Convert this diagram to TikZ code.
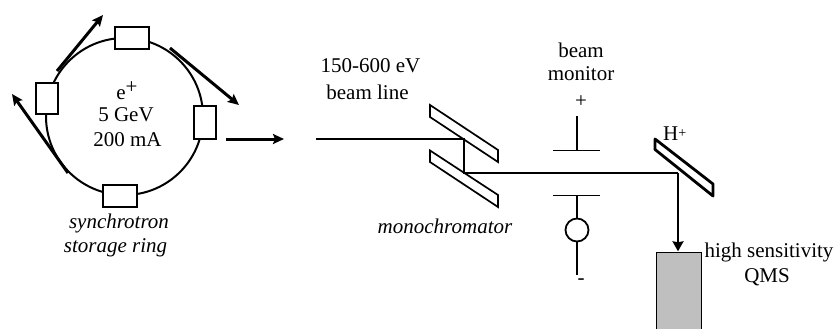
\documentclass[tikz,border=0pt]{standalone}
\usepackage{fontspec}
\setmainfont{Liberation Serif}
\usetikzlibrary{arrows.meta}
\tikzset{
  lab/.style={inner sep=0pt,align=center,font=\fontsize{21}{25}\selectfont},
  ilab/.style={lab,font=\fontsize{21}{25}\selectfont\itshape},
  magnet/.style={draw=black,line width=2.2pt,fill=white,inner sep=0pt,anchor=north west},
  ringline/.style={line width=2pt},
  photon/.style={line width=3pt,-{Stealth[length=11pt,width=10pt,inset=2pt]}},
  beam/.style={line width=2pt},
  plate/.style={line width=1.8pt},
  mirror/.style={line width=1.7pt,fill=white}
}
\begin{document}
\begin{tikzpicture}[x=1pt,y=-1pt]
\useasboundingbox (0,0) rectangle (834,329);
% ring
\node[circle,draw,ringline,minimum size=157pt,inner sep=0pt] (ring) at (124.5,116.5) {};
\node[magnet,minimum width=34.5pt,minimum height=22pt] (mt) at (113.5,26) {};
\node[magnet,minimum width=22pt,minimum height=31pt] (ml) at (35,82) {};
\node[magnet,minimum width=22pt,minimum height=33pt] (mr) at (193,105) {};
\node[magnet,minimum width=34pt,minimum height=22pt] (mb) at (102,184) {};
% synchrotron light
\coordinate (a1s) at (57,71); \coordinate (a1e) at (103,15);
\coordinate (a2s) at (170,48); \coordinate (a2e) at (239,105);
\coordinate (a3s) at (68,173); \coordinate (a3e) at (12,94);
\coordinate (a4s) at (226,139); \coordinate (a4e) at (284,139);
\draw[photon] (a1s) -- (a1e);
\draw[photon] (a2s) -- (a2e);
\draw[photon] (a3s) -- (a3e);
\draw[photon] (a4s) -- (a4e);
\node[lab] (rt1) at (127,91) {e\raisebox{6pt}{+}};
\node[lab] (rt2) at (126,115) {5 GeV};
\node[lab] (rt3) at (127.5,140) {200 mA};
\node[ilab] (syn) at (119,223) {synchrotron};
\node[ilab] (sto) at (115.5,248) {storage ring};
% monochromator
\node[lab] (bl1) at (370.5,66) {150-600 eV};
\node[lab] (bl2) at (367.5,92) {beam line};
\draw[mirror] (430,105) coordinate (g1) -- (430,117) -- (498,162) -- (498,150) -- cycle;
\draw[mirror] (430,150.5) coordinate (g2) -- (430,162) -- (498,207) -- (498,195) -- cycle;
\node[ilab] (mono) at (445,226) {monochromator};
\coordinate (b0) at (316,139); \coordinate (b1) at (464,139); \coordinate (b2) at (464,173); \coordinate (b3) at (678,173);
\draw[beam] (b0) -- (b1) -- (b2) -- (b3);
% beam monitor
\node[lab] (bm1) at (581,50) {beam};
\node[lab] (bm2) at (581,74) {monitor};
\node[lab] (plus) at (581,102) {+};
\node[lab] (minus) at (581,282) {-};
\coordinate (pt) at (577,116); \coordinate (pb) at (577,150.5);
\coordinate (pl) at (553,150.5); \coordinate (pr) at (600,150.5);
\coordinate (ql) at (553,195.5); \coordinate (qr) at (600,195.5);
\coordinate (qm) at (577,195.5); \coordinate (qe) at (577,275);
\draw[plate] (pt) -- (pb);
\draw[plate] (pl) -- (pr);
\draw[plate] (ql) -- (qr);
\node[circle,draw,plate,minimum size=23pt,inner sep=0pt] (meter) at (577,230) {};
\draw[plate] (qm) -- (meter);
\draw[plate] (meter) -- (qe);
% sample
\draw[line width=2.8pt,fill=white,line join=round] (655,139) coordinate (s1) -- (655,149.5) -- (713,196) -- (713,184) -- cycle;
\node[lab,anchor=west] (hp) at (663,134) {H\raisebox{3pt}{\fontsize{14}{14}\selectfont +}};
% QMS
\fill[black!25] (656,252) rectangle (701,329);
\draw[line width=1pt] (656,329) coordinate (q1) -- (656,252) -- (701,252) -- (701,329);
\node (qtop) at (678,252) [inner sep=0pt] {};
\draw[beam,-{Stealth[length=10pt,width=11pt,inset=1pt]}] (b3) -- (qtop);
\node[lab] (hs) at (769,252) {high sensitivity};
\node[lab] (qms) at (767,277) {QMS};
\end{tikzpicture}
\end{document}
